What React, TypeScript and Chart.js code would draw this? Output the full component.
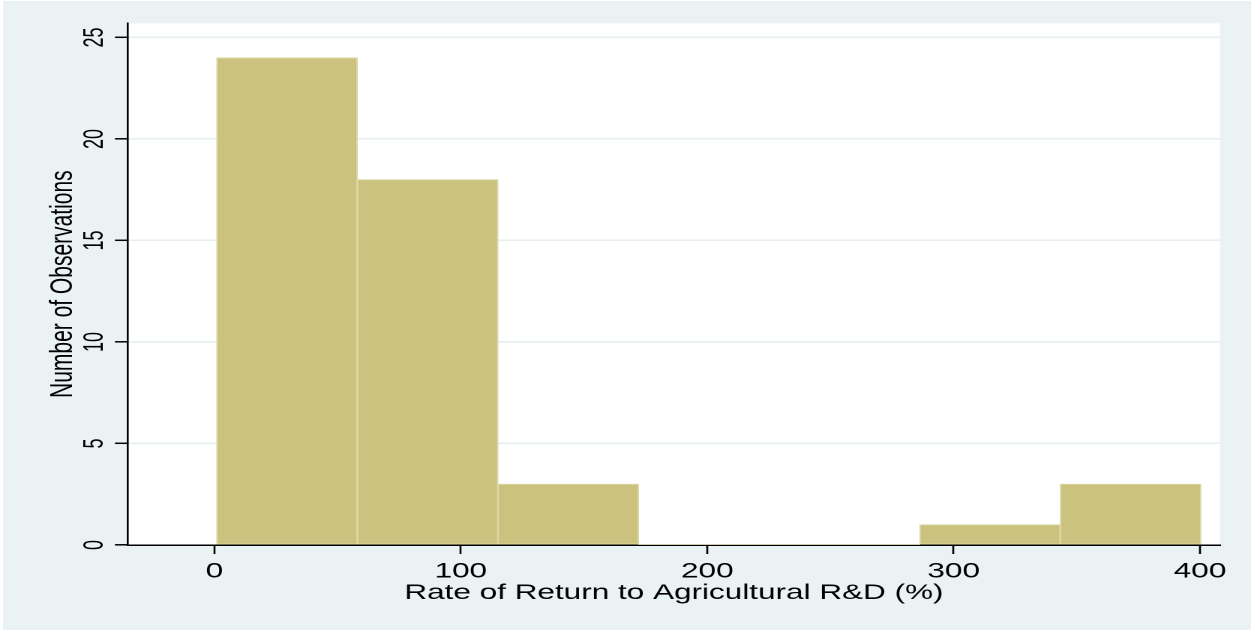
import React, { useEffect, useRef } from "react";
import { Chart, registerables } from "chart.js";

Chart.register(...registerables);

// ---- data ----
const binEdges = [0.9, 58.0, 115.1, 172.1, 229.2, 286.3, 343.3, 400.4];
const binCounts = [24, 18, 3, 0, 0, 1, 3];
const xTickValues = [0, 100, 200, 300, 400];
const yTickValues = [0, 5, 10, 15, 20, 25];
const xTitle = "Rate of Return to Agricultural R&D (%)";
const yTitle = "Number of Observations";

// ---- layout ----
const STRETCH = 1.5;
const W = 834;
const H = 631;
const FONT = "'Liberation Sans', Arial, Helvetica, sans-serif";

const bgPlugin = {
  id: "stataBg",
  beforeDraw(chart: any) {
    const { ctx, chartArea } = chart;
    ctx.save();
    ctx.fillStyle = "#ffffff";
    ctx.fillRect(0, 0, chart.width, chart.height);
    ctx.fillStyle = "#eaf2f3";
    ctx.fillRect(2, 1, chart.width - 2, 629);
    ctx.fillStyle = "#ffffff";
    ctx.fillRect(
      chartArea.left,
      chartArea.top,
      chartArea.right - chartArea.left,
      chartArea.bottom - chartArea.top
    );
    ctx.restore();
  },
};

export default function App() {
  const ref = useRef<HTMLCanvasElement>(null);

  useEffect(() => {
    document.body.style.margin = "0";
    const data = binCounts.map((c, i) => ({
      x: (binEdges[i] + binEdges[i + 1]) / 2,
      y: c,
    }));
    const chart = new Chart(ref.current as HTMLCanvasElement, {
      type: "bar",
      data: {
        datasets: [
          {
            data: data as any,
            backgroundColor: "#cac27e",
            borderColor: "#dcd8a3",
            borderWidth: ((ctx: any) =>
              ctx.raw && ctx.raw.y === 0 ? 0 : 1) as any,
            borderSkipped: false,
            barPercentage: 1,
            categoryPercentage: 1,
          },
        ],
      },
      options: {
        animation: false,
        responsive: false,
        devicePixelRatio: 2,
        layout: { padding: { top: 23.3, right: 20.7, left: 0, bottom: 0 } },
        plugins: {
          legend: { display: false },
          tooltip: { enabled: false },
        },
        scales: {
          x: {
            type: "linear",
            min: -35.1,
            max: 408.1,
            offset: false,
            afterBuildTicks: (s: any) => {
              s.ticks = xTickValues.map((v) => ({ value: v }));
            },
            afterFit: (s: any) => {
              s.height = 86;
            },
            border: { display: true, color: "#000", width: 1.5 },
            grid: {
              offset: false,
              drawOnChartArea: false,
              drawTicks: true,
              tickLength: 9,
              tickColor: "#000",
              tickWidth: 1.3,
            },
            ticks: {
              padding: 4.9,
              color: "#000",
              autoSkip: false,
              maxRotation: 0,
              minRotation: 0,
              font: { family: FONT, size: 21 },
            },
            title: {
              display: true,
              text: xTitle,
              color: "#000",
              font: { family: FONT, size: 21 },
              padding: { top: 0, bottom: 25.4 },
            },
          },
          y: {
            type: "linear",
            min: 0,
            max: 25.7,
            afterBuildTicks: (s: any) => {
              s.ticks = yTickValues.map((v) => ({ value: v }));
            },
            afterFit: (s: any) => {
              s.width = 85.3;
            },
            border: { display: true, color: "#000", width: 1.3 },
            grid: {
              color: (ctx: any) =>
                ctx.tick && ctx.tick.value === 0 ? "rgba(0,0,0,0)" : "#e6eef1",
              lineWidth: 1.6,
              drawTicks: true,
              tickLength: 8.7,
              tickColor: "#000",
              tickWidth: 1.5,
            },
            ticks: {
              minRotation: 90,
              maxRotation: 90,
              crossAlign: "center",
              padding: 3.3,
              color: "#000",
              autoSkip: false,
              font: { family: FONT, size: 18 },
            },
            title: {
              display: true,
              text: yTitle,
              color: "#000",
              font: { family: FONT, size: 21 },
              padding: { top: 29.4, bottom: 0 },
            },
          },
        },
      },
      plugins: [bgPlugin],
    });
    return () => chart.destroy();
  }, []);

  return (
    <div
      style={{
        position: "absolute",
        left: 0,
        top: 0,
        width: W,
        height: H,
        overflow: "hidden",
        transform: `scaleX(${STRETCH})`,
        transformOrigin: "0 0",
      }}
    >
      <canvas ref={ref} width={W} height={H} />
    </div>
  );
}
